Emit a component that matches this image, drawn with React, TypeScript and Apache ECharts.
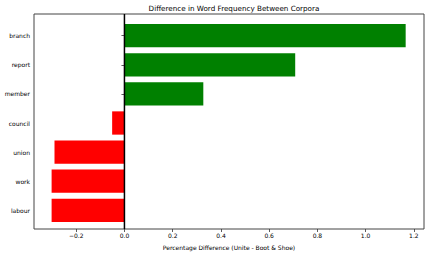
import React, { useEffect, useRef } from "react";
import * as echarts from "echarts";

const categories = ["labour", "work", "union", "council", "member", "report", "branch"];
const values = [-0.302, -0.302, -0.29, -0.051, 0.327, 0.708, 1.166];
const tickValues = [-0.2, 0, 0.2, 0.4, 0.6, 0.8, 1.0, 1.2];
const X_MIN = -0.375;
const X_MAX = 1.242;

const fmt = (v: number) => (v < 0 ? "\u2212" + Math.abs(v).toFixed(1) : v.toFixed(1));

export default function App() {
  const ref = useRef<HTMLDivElement>(null);
  useEffect(() => {
    if (!ref.current) return;
    const chart = echarts.init(ref.current, null, { renderer: "svg" });
    const font = "DejaVu Sans";
    chart.setOption({
      animation: false,
      backgroundColor: "#fff",
      textStyle: { fontFamily: font },
      title: {
        text: "Difference in Word Frequency Between Corpora",
        left: 229,
        top: 0,
        textAlign: "center",
        textStyle: { fontFamily: font, fontSize: 7.2, fontWeight: "normal", color: "#000" },
      },
      grid: [
        { left: 34, right: 4, top: 14, bottom: 23, show: true, borderColor: "#444", borderWidth: 1, backgroundColor: "transparent" },
        { left: 34, right: 4, top: 21.15, bottom: 30.15, show: false },
      ],
      xAxis: [
        {
          type: "value",
          gridIndex: 0,
          min: X_MIN,
          max: X_MAX,
          splitLine: { show: false },
          axisLine: { show: false },
          axisTick: { show: true, length: 3, lineStyle: { color: "#333", width: 0.8 }, customValues: tickValues },
          axisLabel: {
            customValues: tickValues,
            formatter: fmt,
            fontSize: 6,
            color: "#000",
            margin: 3,
            fontFamily: font,
          },
          name: "Percentage Difference (Unite - Boot & Shoe)",
          nameLocation: "middle",
          nameGap: 15,
          nameTextStyle: { fontSize: 6, color: "#000", fontFamily: font },
        },
        {
          type: "value",
          gridIndex: 1,
          min: X_MIN,
          max: X_MAX,
          show: false,
          splitLine: { show: false },
        },
      ],
      yAxis: [
        { type: "value", gridIndex: 0, min: 0, max: 1, show: false, splitLine: { show: false } },
        {
          type: "category",
          gridIndex: 1,
          data: categories,
          axisLine: { show: false },
          axisTick: { show: true, alignWithLabel: true, length: 3, lineStyle: { color: "#333", width: 0.8 } },
          axisLabel: { fontSize: 6, color: "#000", margin: 4, fontFamily: font },
          splitLine: { show: false },
        },
      ],
      series: [
        {
          type: "bar",
          xAxisIndex: 1,
          yAxisIndex: 1,
          barWidth: "80%",
          data: values.map((v) => ({
            value: v,
            itemStyle: { color: v >= 0 ? "#008000" : "#ff0000" },
          })),
        },
        {
          type: "line",
          xAxisIndex: 0,
          yAxisIndex: 0,
          symbol: "none",
          data: [
            [0, 0],
            [0, 1],
          ],
          lineStyle: { color: "#000", width: 1.5 },
          z: 5,
        },
      ],
    });
    return () => chart.dispose();
  }, []);
  return <div ref={ref} style={{ position: "fixed", left: 0, top: 0, width: 428, height: 255 }} />;
}
